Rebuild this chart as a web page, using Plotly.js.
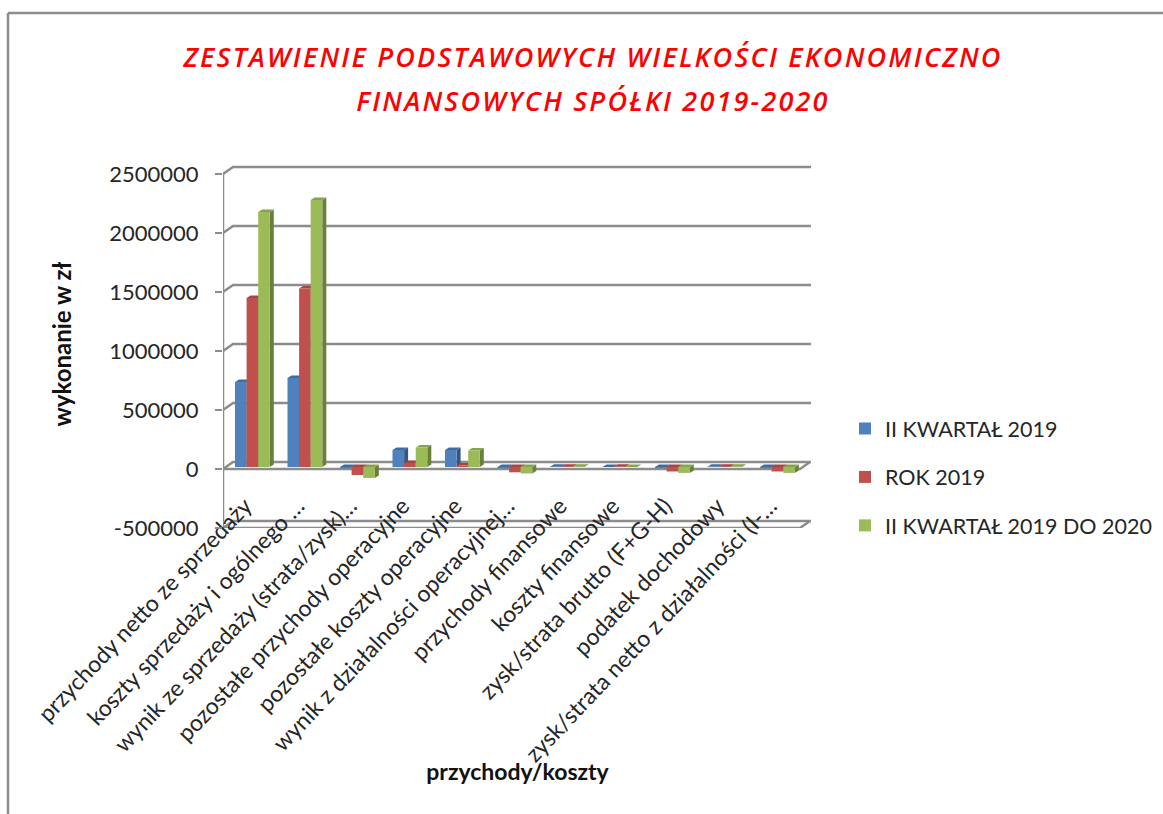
<!DOCTYPE html>
<html><head><meta charset="utf-8">
<script src="https://cdn.plot.ly/plotly-3.0.1.min.js"></script>
<style>html,body{margin:0;padding:0;background:#fff}#c{width:1163px;height:814px}</style></head>
<body><div id="c"></div>
<script>
const categories = ["przychody netto ze sprzedaży","koszty sprzedaży i ogólnego …","wynik ze sprzedaży (strata/zysk)…","pozostałe przychody operacyjne","pozostałe koszty operacyjne","wynik z działalności operacyjnej…","przychody finansowe","koszty finansowe","zysk/strata brutto (F+G-H)","podatek dochodowy","zysk/strata netto z działalności (I-…"];
const seriesNames = ["II KWARTAŁ 2019","ROK 2019","II KWARTAŁ 2019 DO 2020"];
const q2019 = [720000,754000,-12000,144000,144000,-12000,2000,1000,-10000,1500,-10000];
const year2019 = [1432000,1513000,-68000,34000,12000,-45000,3000,1500,-38000,2500,-38000];
const q2020 = [2161000,2263000,-93000,165000,140000,-55000,3000,1000,-50000,1500,-50000];
const yTicks = [-500000,0,500000,1000000,1500000,2000000,2500000];
const title1 = "ZESTAWIENIE PODSTAWOWYCH WIELKOŚCI EKONOMICZNO";
const title2 = "FINANSOWYCH SPÓŁKI 2019-2020";

const W=1163,H=814, L=223,R=812,T=160,B=528;
const pxPerCat=52.5, cat0=252.4, pxPerVal=59/500000;
const xRange=[(L-cat0)/pxPerCat,(R-cat0)/pxPerCat];
const yRange=[-500000,2500000+(174-T)/pxPerVal];
const barW=11.6/pxPerCat, barDx=4/pxPerCat, barDy=2.5/pxPerVal, baseShift=2/pxPerVal;
const wallDx=10/pxPerCat, wallDy=7/pxPerVal, xEndFront=(800-cat0)/pxPerCat;
const front=["#4F81BD","#C0504D","#9BBB59"], sideC=["#36587F","#843331","#68803A"], capC=["#416C9E","#A64442","#86A34B"];
const grid="#8c8c8c", series=[q2019,year2019,q2020];
const idx=categories.map((_,i)=>i);

const traces=[];
// back wall, floor and grid lines
const gx=[],gy=[];
yTicks.forEach(v=>{gx.push(xRange[0],xRange[0]+wallDx,xRange[1]-0.02,null);gy.push(v,v+wallDy,v+wallDy,null);});
[0,-500000].forEach(v=>{gx.push(xRange[0],xEndFront,xEndFront+wallDx,null);gy.push(v,v,v+wallDy,null);});
gx.push(xRange[0],xRange[0],null);gy.push(-500000,2500000,null);
traces.push({x:gx,y:gy,mode:'lines',line:{color:grid,width:2.5},showlegend:false,hoverinfo:'skip',cliponaxis:false});
// depth faces
series.forEach((vals,s)=>{
  const sx=[],sy=[],cx=[],cy=[];
  vals.forEach((v,i)=>{
    const l=i+(s-1)*barW-barW/2,r=l+barW,t=baseShift+Math.max(v,0),b=baseShift+Math.min(v,0);
    sx.push(r,r+barDx,r+barDx,r,null);sy.push(t,t+barDy,b+barDy,b,null);
    cx.push(l,r,r+barDx,l+barDx,null);cy.push(t,t,t+barDy,t+barDy,null);
  });
  traces.push({x:sx,y:sy,mode:'lines',fill:'toself',fillcolor:sideC[s],line:{width:0,color:sideC[s]},showlegend:false,hoverinfo:'skip'});
  traces.push({x:cx,y:cy,mode:'lines',fill:'toself',fillcolor:capC[s],line:{width:0,color:capC[s]},showlegend:false,hoverinfo:'skip'});
});
// front faces
series.forEach((vals,s)=>{
  traces.push({type:'bar',name:seriesNames[s],x:idx,y:vals,base:baseShift,xaxis:'x2',yaxis:'y2',marker:{color:front[s],line:{width:0}},legendgroup:seriesNames[s]});
});
const px=x=>(x-L)/(R-L), py=y=>(B-y)/(B-T);
const font={family:'Lato, Carlito, sans-serif',color:'#262626'};
const tStyle='font-size:27px;letter-spacing:2.2px';
Plotly.newPlot('c',traces,{
  width:W,height:H,autosize:false,paper_bgcolor:'#fff',plot_bgcolor:'rgba(0,0,0,0)',
  margin:{l:L,r:W-R,t:T,b:H-B,pad:0},
  barmode:'group',bargap:1-3*barW,bargroupgap:0,showlegend:true,
  title:{text:`<span style="${tStyle}">${title1}</span><br><span style="${tStyle}">${title2}</span>`,x:593/W,xref:'container',xanchor:'center',y:1-66.5/H,yref:'container',yanchor:'middle',
    font:{family:'Open Sans, sans-serif',size:34,color:'#ff0000',style:'italic',weight:600}},
  xaxis:{range:xRange,tickmode:'array',tickvals:idx.map(i=>i-0.14),ticktext:categories,tickangle:-46.5,showgrid:false,zeroline:false,showline:false,ticks:'',ticklabelstandoff:-41,automargin:true,
    tickfont:{...font,size:23}},
  yaxis:{range:yRange,tickmode:'array',tickvals:yTicks,ticktext:yTicks.map(String),showgrid:false,zeroline:false,showline:false,ticks:'outside',ticklen:7,tickwidth:2.5,tickcolor:grid,ticklabelstandoff:12,automargin:true,
    tickfont:{...font,size:22},title:{text:'wykonanie w zł',standoff:30,font:{...font,size:24,weight:700,color:'#111'}}},
  xaxis2:{range:xRange,overlaying:'x',anchor:'y2',side:'bottom',showticklabels:false,ticks:'',showgrid:false,zeroline:false,showline:false,automargin:true,
    title:{text:'przychody/koszty',standoff:235,font:{...font,size:23,weight:700,color:'#111'}}},
  yaxis2:{range:yRange,overlaying:'y',visible:false,anchor:'x2'},
  legend:{xref:'container',yref:'container',x:845/W,xanchor:'left',y:1-408/H,yanchor:'top',font:{...font,size:21.5},tracegroupgap:17.5,traceorder:'grouped',bgcolor:'rgba(0,0,0,0)'},
  shapes:[
    {type:'line',xref:'paper',yref:'paper',x0:px(8),x1:px(8),y0:py(13),y1:py(814),line:{color:'#8c8c8c',width:2.5}},
    {type:'line',xref:'paper',yref:'paper',x0:px(8),x1:px(1163),y0:py(13),y1:py(13),line:{color:'#8c8c8c',width:2.5}}
  ]
},{staticPlot:true,displayModeBar:false});
</script></body></html>
